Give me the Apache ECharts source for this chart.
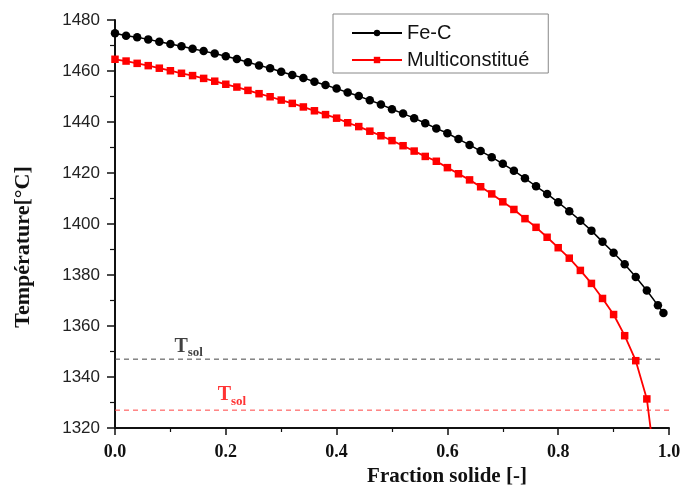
<!DOCTYPE html>
<html>
<head>
<meta charset="utf-8">
<script src="https://cdn.jsdelivr.net/npm/echarts@6/dist/echarts.min.js"></script>
<style>html,body{margin:0;padding:0;background:#fff}#c{width:683px;height:489px}</style>
</head>
<body>
<div id="c"></div>
<script>
var fracFeC = [0,0.02,0.04,0.06,0.08,0.10,0.12,0.14,0.16,0.18,0.20,0.22,0.24,0.26,0.28,0.30,0.32,0.34,0.36,0.38,0.40,0.42,0.44,0.46,0.48,0.50,0.52,0.54,0.56,0.58,0.60,0.62,0.64,0.66,0.68,0.70,0.72,0.74,0.76,0.78,0.80,0.82,0.84,0.86,0.88,0.90,0.92,0.94,0.96,0.98,0.99];
var tempFeC = [1474.8,1473.8,1473.2,1472.4,1471.5,1470.6,1469.7,1468.7,1467.8,1466.9,1465.8,1464.7,1463.4,1462.2,1461.1,1459.7,1458.4,1457.3,1455.8,1454.5,1453.1,1451.6,1450.2,1448.5,1446.9,1445.0,1443.3,1441.5,1439.5,1437.5,1435.6,1433.3,1431.0,1428.6,1426.2,1423.6,1420.9,1417.9,1414.8,1411.8,1408.5,1405.0,1401.3,1397.4,1393.0,1388.7,1384.2,1379.2,1373.9,1368.1,1365.1];
var fracMulti = [0,0.02,0.04,0.06,0.08,0.10,0.12,0.14,0.16,0.18,0.20,0.22,0.24,0.26,0.28,0.30,0.32,0.34,0.36,0.38,0.40,0.42,0.44,0.46,0.48,0.50,0.52,0.54,0.56,0.58,0.60,0.62,0.64,0.66,0.68,0.70,0.72,0.74,0.76,0.78,0.80,0.82,0.84,0.86,0.88,0.90,0.92,0.94,0.96,0.98];
var tempMulti = [1464.6,1463.9,1463.0,1462.1,1461.1,1460.1,1459.1,1458.2,1457.1,1456.0,1454.8,1453.7,1452.4,1451.1,1449.9,1448.6,1447.3,1445.9,1444.4,1442.9,1441.5,1439.7,1438.2,1436.4,1434.6,1432.7,1430.7,1428.6,1426.5,1424.6,1422.1,1419.7,1417.3,1414.6,1411.8,1408.7,1405.7,1402.1,1398.7,1394.8,1390.7,1386.6,1381.8,1376.7,1370.8,1364.5,1356.2,1346.4,1331.4,1297];
var tsolFeC = 1347;
var tsolMulti = 1327;
var tsolLabelFeC = [0.133, 1351.6];
var tsolLabelMulti = [0.211, 1332.5];
var seriesNames = ['Fe-C', 'Multiconstitué'];
var xTickLabels = ['0.0','0.2','0.4','0.6','0.8','1.0'];

function pairs(xs, ys){ return xs.map(function(x,i){ return [x, ys[i]]; }); }

var chart = echarts.init(document.getElementById('c'), null, {renderer:'canvas'});
var serif = '"Liberation Serif", "DejaVu Serif", serif';
var sans = '"Liberation Sans", Arial, sans-serif';
var tsolRich = function(color){
  return {
    T: {fontFamily: serif, fontWeight: 'bold', fontSize: 20, color: color, verticalAlign: 'top', lineHeight: 22},
    s: {fontFamily: serif, fontWeight: 'bold', fontSize: 13, color: color, verticalAlign: 'top', padding: [10,0,0,0], lineHeight: 13}
  };
};
chart.setOption({
  animation: false,
  grid: {left: 115, right: 14, top: 20, bottom: 61, outerBoundsMode: 'none', containLabel: false},
  legend: {
    data: seriesNames,
    left: 333, top: 14, width: 200,
    orient: 'vertical',
    borderColor: '#888', borderWidth: 1,
    padding: [9, 19, 3, 18],
    itemWidth: 50, itemHeight: 8, itemGap: 7,
    textStyle: {fontFamily: sans, fontSize: 20, color: '#111'}
  },
  xAxis: {
    type: 'value', min: 0, max: 1, interval: 0.2,
    name: 'Fraction solide [-]', nameLocation: 'middle', nameGap: 38,
    nameTextStyle: {fontFamily: serif, fontWeight: 'bold', fontSize: 21, color: '#111', padding: [0,0,0,110]},
    axisLine: {lineStyle: {color: '#111', width: 2}},
    axisTick: {inside: false, length: 7, lineStyle: {color: '#111', width: 1.5}},
    minorTick: {show: true, splitNumber: 2, length: 4, lineStyle: {color: '#111', width: 1.2}},
    splitLine: {show: false},
    axisLabel: {fontFamily: serif, fontWeight: 'bold', fontSize: 18, color: '#111', margin: 15,
      formatter: function(v){ return xTickLabels[Math.round(v/0.2)]; }}
  },
  yAxis: {
    type: 'value', min: 1320, max: 1480, interval: 20,
    name: 'Température[°C]', nameLocation: 'middle', nameGap: 81,
    nameTextStyle: {fontFamily: serif, fontWeight: 'bold', fontSize: 22, color: '#111', padding: [0,46,0,0]},
    axisLine: {show: true, lineStyle: {color: '#111', width: 2}},
    axisTick: {show: true, inside: false, length: 8, lineStyle: {color: '#111', width: 1.5}},
    minorTick: {show: true, splitNumber: 2, length: 5, lineStyle: {color: '#111', width: 1.2}},
    splitLine: {show: false},
    axisLabel: {fontFamily: sans, fontSize: 17, color: '#222', margin: 15,
      formatter: function(v){ return String(v); }}
  },
  series: [
    {
      name: seriesNames[0], type: 'line', data: pairs(fracFeC, tempFeC),
      symbol: 'circle', symbolSize: 8.5, color: '#000',
      lineStyle: {color: '#000', width: 1.5}, itemStyle: {color: '#000'}, z: 4
    },
    {
      name: seriesNames[1], type: 'line', data: pairs(fracMulti, tempMulti),
      symbol: 'rect', symbolSize: 7.5, color: '#ff0000', clip: true,
      lineStyle: {color: '#ff0000', width: 1.8}, itemStyle: {color: '#ff0000'}, z: 3
    },
    {
      name: 'tsol1', type: 'line', data: [[0, tsolFeC], [0.99, tsolFeC]], symbol: 'none',
      lineStyle: {color: '#444', width: 1, type: [5,4]}, silent: true, z: 1
    },
    {
      name: 'tsol2', type: 'line', data: [[0, tsolMulti], [1, tsolMulti]], symbol: 'none',
      lineStyle: {color: '#ff4444', width: 1, type: [5,4]}, silent: true, z: 1
    },
    {
      name: 'lab', type: 'scatter', symbolSize: 0, silent: true,
      data: [
        {value: tsolLabelFeC, label: {show: true, position: 'inside', formatter: '{T|T}{s|sol}', rich: tsolRich('#111')}},
        {value: tsolLabelMulti, label: {show: true, position: 'inside', formatter: '{T|T}{s|sol}', rich: tsolRich('#ff0000')}}
      ]
    }
  ]
});
</script>
</body>
</html>
